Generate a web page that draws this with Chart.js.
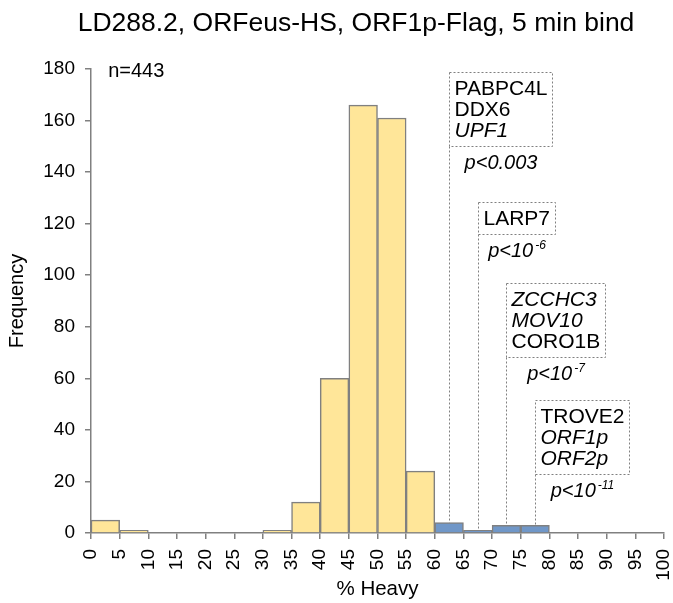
<!DOCTYPE html>
<html>
<head>
<meta charset="utf-8">
<script src="https://cdn.jsdelivr.net/npm/chart.js@4.4.1/dist/chart.umd.min.js"></script>
<style>
  html, body { margin: 0; padding: 0; background: #fff; }
</style>
</head>
<body>
<canvas id="myChart" width="673" height="603"></canvas>
<script>
const binStarts = [0, 5, 10, 15, 20, 25, 30, 35, 40, 45, 50, 55, 60, 65, 70, 75, 80, 85, 90, 95];
const counts    = [5, 1, 0, 0, 0, 0, 1, 12, 60, 166, 161, 24, 4, 1, 3, 3, 0, 0, 0, 0];
const binWidth = 5;
const enrichedFrom = 60;
const sampleSize = 443;
const chartTitle = 'LD288.2, ORFeus-HS, ORF1p-Flag, 5 min bind';

// hit groups: which bin they point at, their protein names and p-values
const hitBins    = [12, 13, 14, 15];
const hitLabels  = [['PABPC4L', 'DDX6', 'UPF1'], ['LARP7'], ['ZCCHC3', 'MOV10', 'CORO1B'], ['TROVE2', 'ORF1p', 'ORF2p']];
const hitItalic  = [[false, false, true], [false], [true, true, false], [false, true, true]];
const hitPBase   = ['p<0.003', 'p<10', 'p<10', 'p<10'];
const hitPExp    = ['', '-6', '-7', '-11'];
const hitBoxTops = [179, 128.5, 97, 51.5];

const FONT = '"Liberation Sans", Arial, sans-serif';
const GREY = '#808080';
const YELLOW = '#FFE699';
const BLUE = '#7097C8';

Chart.defaults.font.family = FONT;
Chart.defaults.color = '#000';

const hitsPlugin = {
    id: 'hits',
    afterDatasetsDraw(chart) {
        const { ctx, scales: { x, y } } = chart;
        ctx.save();

        // title (drawn here so it can sit a little right of the canvas centre)
        ctx.font = '26.5px ' + FONT;
        ctx.fillStyle = '#000';
        ctx.textAlign = 'center';
        ctx.textBaseline = 'middle';
        ctx.fillText(chartTitle, 356, 24);

        // sample size
        ctx.textAlign = 'left';
        ctx.textBaseline = 'alphabetic';
        ctx.font = '20px ' + FONT;
        ctx.fillText('n=' + sampleSize, x.getPixelForValue(3), y.getPixelForValue(177));

        hitBins.forEach((bin, i) => {
            const left = Math.round(x.getPixelForValue(binStarts[bin] + binWidth / 2)) + 0.5;
            const top = Math.round(y.getPixelForValue(hitBoxTops[i])) + 0.5;
            const barTop = y.getPixelForValue(counts[bin]);

            let w = 0;
            hitLabels[i].forEach((t, j) => {
                ctx.font = (hitItalic[i][j] ? 'italic ' : '') + '21px ' + FONT;
                w = Math.max(w, ctx.measureText(t).width);
            });
            const boxW = Math.round(w + 10);
            const boxH = hitLabels[i].length * 21 + 11;

            ctx.strokeStyle = GREY;
            ctx.lineWidth = 1;
            ctx.setLineDash([2, 2]);
            ctx.beginPath();
            ctx.rect(left, top, boxW, boxH);
            ctx.moveTo(left, top + boxH);
            ctx.lineTo(left, barTop);
            ctx.stroke();

            ctx.fillStyle = '#000';
            hitLabels[i].forEach((t, j) => {
                ctx.font = (hitItalic[i][j] ? 'italic ' : '') + '21px ' + FONT;
                ctx.fillText(t, left + 5, top + 22 + j * 21);
            });

            // p-value, centred under the box
            ctx.font = 'italic 20px ' + FONT;
            const baseW = ctx.measureText(hitPBase[i]).width;
            ctx.font = 'italic 12px ' + FONT;
            const expW = hitPExp[i] ? ctx.measureText(hitPExp[i]).width + 2 : 0;
            const sx = left + boxW / 2 - (baseW + expW) / 2;
            const by = top + boxH + 22;
            ctx.font = 'italic 20px ' + FONT;
            ctx.fillText(hitPBase[i], sx, by);
            if (hitPExp[i]) {
                ctx.font = 'italic 12px ' + FONT;
                ctx.fillText(hitPExp[i], sx + baseW + 2, by - 8);
            }
        });
        ctx.restore();
    }
};

const ctx = document.getElementById('myChart');

new Chart(ctx, {
    type: 'bar',
    data: {
        datasets: [{
            data: counts.map((c, i) => ({ x: binStarts[i] + binWidth / 2, y: c })),
            backgroundColor: counts.map((c, i) => binStarts[i] >= enrichedFrom ? BLUE : YELLOW),
            borderColor: GREY,
            borderWidth: 1.5,
            barPercentage: 1,
            categoryPercentage: 1,
        }]
    },
    options: {
        responsive: false,
        animation: false,
        devicePixelRatio: 1,
        layout: { padding: { left: 0, right: 9, top: 69, bottom: 0 } },
        plugins: {
            legend: { display: false },
            tooltip: { enabled: false },
            title: { display: false },
        },
        scales: {
            x: {
                type: 'linear',
                min: 0,
                max: 100,
                offset: false,
                grid: { offset: false, drawOnChartArea: false, tickLength: 6, color: GREY, lineWidth: 1.5 },
                border: { color: GREY, width: 1.5 },
                ticks: {
                    stepSize: 5,
                    autoSkip: false,
                    minRotation: 90,
                    maxRotation: 90,
                    padding: 10,
                    font: { size: 19 },
                    color: '#000',
                },
                title: {
                    display: true,
                    text: '% Heavy',
                    font: { size: 20.5, lineHeight: 1.2 },
                    padding: { top: 0, bottom: 1 },
                    color: '#000',
                },
                afterFit: (scale) => {
                    scale.height = 70;
                    scale.paddingLeft = 0;
                    scale.paddingRight = 0;
                },
            },
            y: {
                min: 0,
                max: 180,
                grid: { drawOnChartArea: false, tickLength: 6, color: GREY, lineWidth: 1.5 },
                border: { color: GREY, width: 1.5 },
                ticks: { stepSize: 20, padding: 10, font: { size: 19 }, color: '#000' },
                title: {
                    display: true,
                    text: 'Frequency',
                    font: { size: 20, lineHeight: 1.2 },
                    padding: { top: 5, bottom: 0 },
                    color: '#000',
                },
                afterFit: (scale) => { scale.width = 91; },
            },
        },
    },
    plugins: [hitsPlugin],
});
</script>
</body>
</html>
